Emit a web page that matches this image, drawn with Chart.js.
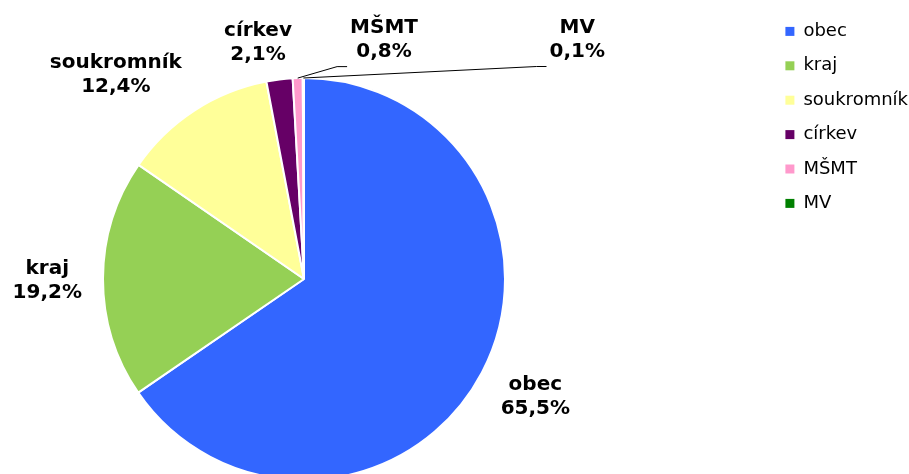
<!DOCTYPE html>
<html lang="cs">
<head>
    <meta charset="UTF-8">
    <title>Zřizovatel</title>
    <style>
        html, body {
            margin: 0;
            padding: 0;
            background: #ffffff;
        }
        #wrap {
            width: 909px;
            height: 474px;
        }
    </style>
    <script src="https://cdn.jsdelivr.net/npm/chart.js"></script>
</head>
<body>
<div id="wrap">
    <canvas id="mychart" width="909" height="474"></canvas>
</div>
<script>
    // data
    const labels = ['obec', 'kraj', 'soukromník', 'církev', 'MŠMT', 'MV'];
    const shares = [65.5, 19.2, 12.4, 2.1, 0.8, 0.1];
    const colors = ['#3366FF', '#95D055', '#FFFF99', '#660066', '#FF99CC', '#008000'];

    const fmt = v => v.toFixed(1).replace('.', ',') + '%';

    // labels outside the pie, shifted a bit like in the original, two with a leader line
    const outsideLabels = {
        id: 'outsideLabels',
        afterDatasetsDraw(chart, args, opts) {
            const ctx = chart.ctx;
            const meta = chart.getDatasetMeta(0);
            ctx.save();
            ctx.font = 'bold 20px "DejaVu Sans"';
            ctx.fillStyle = '#000';
            ctx.strokeStyle = '#000';
            ctx.lineWidth = 1;
            ctx.textAlign = 'center';
            ctx.textBaseline = 'middle';

            meta.data.forEach((arc, i) => {
                const p = arc.getProps(['x', 'y', 'startAngle', 'endAngle', 'outerRadius'], true);
                const mid = (p.startAngle + p.endAngle) / 2;
                const cos = Math.cos(mid), sin = Math.sin(mid);
                const lines = [chart.data.labels[i], fmt(chart.data.datasets[0].data[i])];
                const w = Math.max(...lines.map(t => ctx.measureText(t).width));
                const h = 47;
                const r = p.outerRadius + opts.gap;
                const shift = opts.shift[i];
                const cx = p.x + cos * r + cos * w / 2 + shift[0];
                const cy = p.y + sin * r + sin * h / 2 + shift[1];

                ctx.fillText(lines[0], cx, cy - 12);
                ctx.fillText(lines[1], cx, cy + 12);

                if (opts.leader[i]) {
                    const left = cx - w / 2;
                    const ly = cy + 27;
                    ctx.beginPath();
                    ctx.moveTo(p.x + cos * p.outerRadius, p.y + sin * p.outerRadius);
                    ctx.lineTo(left - 13, ly);
                    ctx.lineTo(left - 3, ly);
                    ctx.stroke();
                }
            });
            ctx.restore();
        }
    };

    new Chart(document.getElementById('mychart'), {
        type: 'pie',
        data: {
            labels: labels,
            datasets: [{
                data: shares,
                backgroundColor: colors,
                borderColor: '#ffffff',
                borderWidth: 2,
                radius: 201,
                clip: false
            }]
        },
        options: {
            responsive: false,
            animation: false,
            layout: {
                padding: {left: 0, right: 0, top: 6, bottom: 0}
            },
            plugins: {
                tooltip: {enabled: false},
                // empty boxes only used to push the pie down and to the left
                title: {
                    display: true,
                    text: '',
                    position: 'top',
                    fullSize: false,
                    font: {size: 12, lineHeight: 1.2},
                    padding: {top: 63.6, bottom: 0}
                },
                subtitle: {
                    display: true,
                    text: '',
                    position: 'right',
                    fullSize: false,
                    weight: 500,
                    font: {size: 12, lineHeight: 1.2},
                    padding: {top: 146.6, bottom: 0}
                },
                legend: {
                    position: 'right',
                    align: 'start',
                    maxWidth: 140,
                    labels: {
                        font: {family: 'DejaVu Sans', size: 18},
                        color: '#000',
                        boxWidth: 9,
                        boxHeight: 9,
                        padding: 16.4,
                        generateLabels: chart =>
                            Chart.overrides.pie.plugins.legend.labels.generateLabels(chart)
                                .map(item => ({...item, lineWidth: 0, strokeStyle: 'rgba(0,0,0,0)'}))
                    }
                },
                outsideLabels: {
                    gap: 19,
                    shift: [[6, 4], [-2, 2], [-32, 0], [-15, 5], [88, 4], [274, 4]],
                    leader: [false, false, false, false, true, true]
                }
            }
        },
        plugins: [outsideLabels]
    });
</script>
</body>
</html>
